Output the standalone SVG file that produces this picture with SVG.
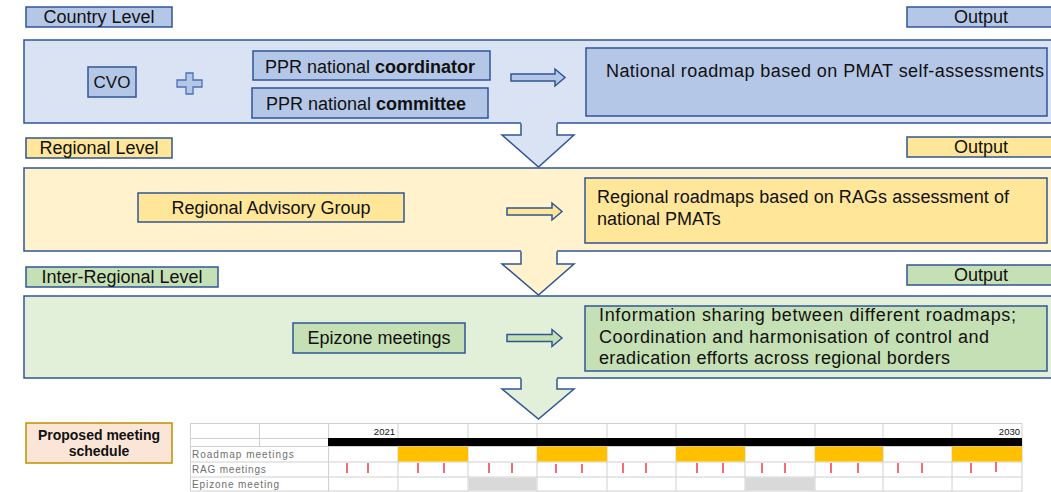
<svg xmlns="http://www.w3.org/2000/svg" width="1051" height="492" viewBox="0 0 1051 492">
<style>
text{font-family:"Liberation Sans",Arial,sans-serif;fill:#111}
.t{font-size:18px}
.c{text-anchor:middle}
.b{stroke:#2f5597;stroke-width:1.5}
.blueL{fill:#dae3f3}.blueD{fill:#b4c7e7}
.yelL{fill:#fff2cc}.yelD{fill:#ffe699}
.grnL{fill:#e2f0d9}.grnD{fill:#c5e0b4}
.grid{stroke:#d0d0d0;stroke-width:1;fill:none}
.sm{font-size:10px;fill:#6f6f6f}
.tick{stroke:#f03c4a;stroke-width:1.5}
</style>
<rect width="1051" height="492" fill="#fff"/>
<!-- level containers -->
<g id="country-level">
<rect x="24" y="40" width="1040" height="83" class="blueL b"/>
<rect x="26" y="7" width="146" height="20" class="blueD b"/>
<text x="99" y="23" class="t c">Country Level</text>
<rect x="907" y="7" width="160" height="20" class="blueD b"/>
<text x="981" y="23" class="t c">Output</text>
</g>
<g id="regional-level">
<rect x="24" y="168" width="1040" height="83" class="yelL b"/>
<rect x="26" y="138" width="146" height="20" class="yelD b"/>
<text x="99" y="154" class="t c">Regional Level</text>
<rect x="907" y="137" width="160" height="20" class="yelD b"/>
<text x="981" y="153" class="t c">Output</text>
</g>
<g id="inter-regional-level">
<rect x="24" y="296" width="1040" height="82" class="grnL b"/>
<rect x="26" y="267" width="192" height="20" class="grnD b"/>
<text x="122" y="283" class="t c">Inter-Regional Level</text>
<rect x="907" y="265" width="160" height="20" class="grnD b"/>
<text x="981" y="281" class="t c">Output</text>
</g>
<!-- connectors -->
<g id="connectors">
<path d="M521,121 L521,135 L502,135 L538.5,167 L574,135 L557,135 L557,121 Z" class="blueL"/>
<path d="M521,123.5 L521,135 L502,135 L538.5,167 L574,135 L557,135 L557,123.5" class="b" fill="none"/>
<path d="M521,249 L521,264 L502,264 L538.5,295 L574,264 L557,264 L557,249 Z" class="yelL"/>
<path d="M521,251.5 L521,264 L502,264 L538.5,295 L574,264 L557,264 L557,251.5" class="b" fill="none"/>
<path d="M521,376 L521,389 L502,389 L538.5,419 L574,389 L557,389 L557,376 Z" class="grnL"/>
<path d="M521,378.5 L521,389 L502,389 L538.5,419 L574,389 L557,389 L557,378.5" class="b" fill="none"/>
<path d="M511,74 L555,74 L555,69 L565,77.5 L555,86 L555,81 L511,81 Z" class="blueD b"/>
<path d="M507,208 L552,208 L552,203 L562,211.5 L552,220 L552,215 L507,215 Z" class="yelD b"/>
<path d="M507,334.5 L552,334.5 L552,329.5 L562,338 L552,346.5 L552,341.5 L507,341.5 Z" class="grnD b"/>
</g>
<!-- country nodes -->
<g id="cvo">
<rect x="88" y="67" width="48" height="30" class="blueD b"/>
<text x="112" y="88" class="c" font-size="17">CVO</text>
</g>
<g id="plus">
<path d="M186,73 L193,73 L193,80 L202,80 L202,87 L193,87 L193,94 L186,94 L186,87 L177,87 L177,80 L186,80 Z" class="blueD" stroke="#4a72b8" stroke-width="1.3"/>
</g>
<g id="ppr-coordinator">
<rect x="253" y="51" width="237" height="29" class="blueD b"/>
<text x="265" y="73" class="t">PPR national <tspan font-weight="bold">coordinator</tspan></text>
</g>
<g id="ppr-committee">
<rect x="252" y="88" width="236" height="30" class="blueD b"/>
<text x="266" y="110" class="t">PPR national <tspan font-weight="bold">committee</tspan></text>
</g>
<g id="national-roadmap">
<rect x="586" y="48" width="461" height="68" class="blueD b"/>
<text x="606" y="77" class="t" textLength="438">National roadmap based on PMAT self-assessments</text>
</g>
<!-- regional nodes -->
<g id="rag">
<rect x="138" y="193" width="266" height="29" class="yelD b"/>
<text x="271" y="214" class="t c">Regional Advisory Group</text>
</g>
<g id="regional-roadmaps">
<rect x="585" y="178" width="462" height="65" class="yelD b"/>
<text x="597" y="203" class="t" textLength="412">Regional roadmaps based on RAGs assessment of</text>
<text x="597" y="225" class="t">national PMATs</text>
</g>
<!-- inter-regional nodes -->
<g id="epizone">
<rect x="293" y="323" width="172" height="30" class="grnD b"/>
<text x="379" y="344" class="t c">Epizone meetings</text>
</g>
<g id="information-sharing">
<rect x="585" y="306" width="462" height="65" class="grnD b"/>
<text x="599" y="321" class="t" textLength="417">Information sharing between different roadmaps;</text>
<text x="599" y="343" class="t" textLength="390">Coordination and harmonisation of control and</text>
<text x="599" y="364" class="t" textLength="351">eradication efforts across regional borders</text>
</g>
<!-- schedule -->
<g id="proposed-schedule">
<rect x="26" y="423" width="146" height="40" fill="#fbe5d6" stroke="#bf9000" stroke-width="1.5"/>
<text x="99" y="440" class="c" font-size="14" font-weight="bold">Proposed meeting</text>
<text x="99" y="456" class="c" font-size="14" font-weight="bold">schedule</text>
</g>
<g id="schedule-table">
<path class="grid" d="M190,423.5H1022M190,438.5H1022M190,446.5H1022M190,462H1022M190,477H1022M190,491H1022
M190.5,423V491M259.5,423V446M328.5,423V491M398,423V491M468,423V491M537,423V491M607,423V491M676,423V491M745,423V491M815,423V491M883,423V491M952,423V491M1022,423V491"/>
<rect x="328" y="438" width="694" height="8" fill="#000"/>
<g fill="#ffc000">
<rect x="398" y="446.5" width="70" height="15"/>
<rect x="537" y="446.5" width="70" height="15"/>
<rect x="676" y="446.5" width="69" height="15"/>
<rect x="815" y="446.5" width="68" height="15"/>
<rect x="952" y="446.5" width="70" height="15"/>
</g>
<g fill="#d9d9d9">
<rect x="468.5" y="477.5" width="68" height="13"/>
<rect x="745.5" y="477.5" width="69" height="13"/>
</g>
<path class="tick" d="M347,463V473M368,463V473M418,463V473M444,463V473M489,463V473M512,463V473M556,464V473M582,464V473M623,463V473M646,463V473M697,463V473M723,463V473M762,463V473M785,463V473M831,463V473M858,463V473M898,463V473M922,463V473M971,463V473M996,462V472"/>
<text x="395" y="435" font-size="9.5" fill="#444" text-anchor="end">2021</text>
<text x="1020" y="435" font-size="9.5" fill="#444" text-anchor="end">2030</text>
<text x="192" y="458" class="sm" letter-spacing="1">Roadmap meetings</text>
<text x="192" y="473" class="sm" letter-spacing="0.8">RAG meetings</text>
<text x="192" y="488" class="sm" letter-spacing="0.9">Epizone meeting</text>
</g>
</svg>
